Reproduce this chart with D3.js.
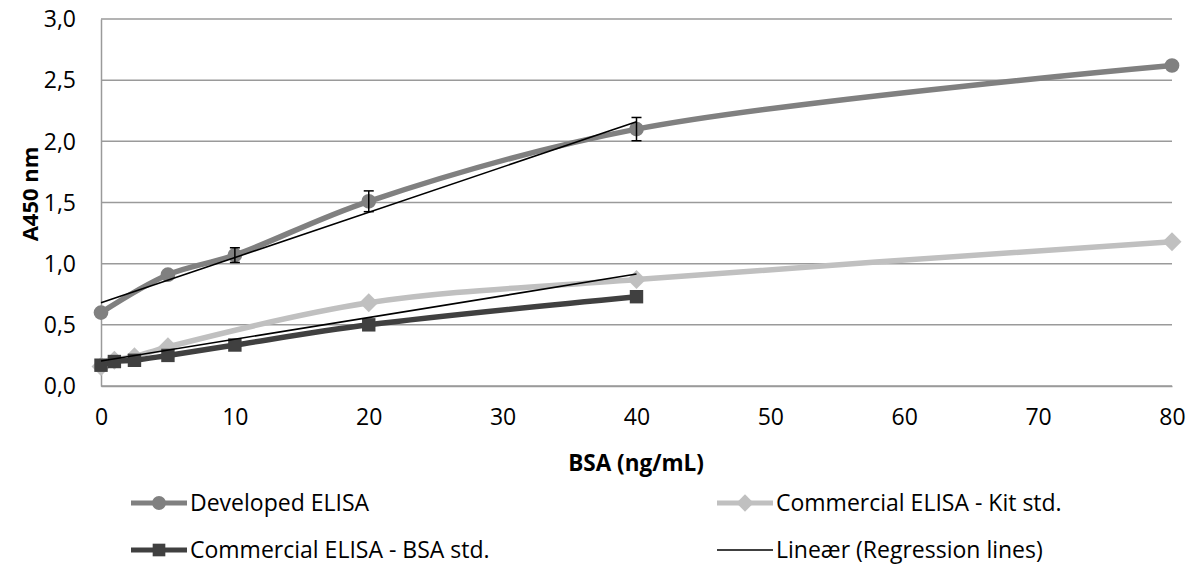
<!DOCTYPE html>
<html>
<head>
<meta charset="utf-8">
<script src="https://cdn.jsdelivr.net/npm/d3@7"></script>
<style>
  body { margin: 0; background: #fff; }
  svg text { font-family: "Open Sans", "Liberation Sans", sans-serif; fill: #000; }
</style>
</head>
<body>
<div id="chart"></div>
<script>
// concentrations and absorbances
const devX = [0, 5, 10, 20, 40, 80];
const devY = [0.60, 0.91, 1.07, 1.51, 2.10, 2.62];
const devErr = [0, 0, 0.06, 0.085, 0.095, 0];

const kitX = [0, 1, 2.5, 5, 20, 40, 80];
const kitY = [0.16, 0.21, 0.24, 0.32, 0.68, 0.87, 1.18];

const bsaX = [0, 1, 2.5, 5, 10, 20, 40];
const bsaY = [0.17, 0.20, 0.21, 0.25, 0.335, 0.50, 0.73];

// regression lines [x0, y0], [x1, y1]
const regDev = [[0, 0.68], [40, 2.16]];
const regLow = [[0, 0.205], [40, 0.915]];

const xTicks = [0, 10, 20, 30, 40, 50, 60, 70, 80];
const yTicks = [0, 0.5, 1.0, 1.5, 2.0, 2.5, 3.0];

const width = 1188, height = 564;
const margin = {left: 101, right: 16, top: 19, bottom: 178};
const fs = 23;

const svg = d3.select('#chart').append('svg')
    .attr('width', width)
    .attr('height', height);

const x = d3.scaleLinear().domain([0, 80]).range([margin.left, width - margin.right]);
const y = d3.scaleLinear().domain([0, 3]).range([height - margin.bottom, margin.top]);

const fmt = d => d3.format('.1f')(d).replace('.', ',');

// rotated square, like the Excel diamond marker
const diamond = {
    draw(ctx, size) {
        const r = Math.sqrt(size / 2);
        ctx.moveTo(0, -r); ctx.lineTo(r, 0); ctx.lineTo(0, r); ctx.lineTo(-r, 0); ctx.closePath();
    }
};

// gridlines
svg.append('g')
    .selectAll('line')
    .data(yTicks)
    .join('line')
    .attr('x1', x(0)).attr('x2', x(80))
    .attr('y1', d => y(d)).attr('y2', d => y(d))
    .attr('stroke', '#9a9a9a')
    .attr('stroke-width', 1.5);

// y axis
const yAxis = svg.append('g')
    .attr('transform', `translate(${x(0)},0)`)
    .call(d3.axisLeft(y).tickValues(yTicks).tickFormat(fmt).tickSize(0).tickPadding(25));
yAxis.select('.domain').attr('stroke', '#9a9a9a').attr('stroke-width', 1.5);
yAxis.selectAll('text').attr('font-size', fs).attr('dy', '0.34em');

// x axis
const xAxis = svg.append('g')
    .attr('transform', `translate(0,${y(0)})`)
    .call(d3.axisBottom(x).tickValues(xTicks).tickFormat(d3.format('d')).tickSize(0).tickPadding(23));
xAxis.select('.domain').attr('stroke', '#9a9a9a').attr('stroke-width', 1.5);
xAxis.selectAll('text').attr('font-size', fs);

// axis titles
svg.append('text')
    .attr('transform', `translate(38,194) rotate(-90)`)
    .attr('text-anchor', 'middle')
    .attr('font-size', fs - 1)
    .attr('font-weight', 'bold')
    .text('A450 nm');

svg.append('text')
    .attr('x', 636)
    .attr('y', 471)
    .attr('text-anchor', 'middle')
    .attr('font-size', fs - 0.5)
    .attr('font-weight', 'bold')
    .text('BSA (ng/mL)');

const line = d3.line().x(d => x(d[0])).y(d => y(d[1])).curve(d3.curveCatmullRom.alpha(0.5));

const series = [
    {xs: kitX, ys: kitY, color: '#c0c0c0', shape: diamond, size: 180},
    {xs: bsaX, ys: bsaY, color: '#404040', shape: d3.symbolSquare, size: 180},
    {xs: devX, ys: devY, color: '#808080', shape: d3.symbolCircle, size: 170}
];

// error bars for developed ELISA
const errData = devX.map((v, i) => [v, devY[i], devErr[i]]).filter(d => d[2] > 0);

series.forEach(s => {
    const pts = s.xs.map((v, i) => [v, s.ys[i]]);
    svg.append('path')
        .datum(pts)
        .attr('d', line)
        .attr('fill', 'none')
        .attr('stroke', s.color)
        .attr('stroke-width', 5.5)
        .attr('stroke-linejoin', 'round');
    svg.append('g')
        .selectAll('path')
        .data(pts)
        .join('path')
        .attr('transform', d => `translate(${x(d[0])},${y(d[1])})`)
        .attr('d', d3.symbol().type(s.shape).size(s.size))
        .attr('fill', s.color);
});

const eb = svg.append('g').attr('stroke', '#000').attr('stroke-width', 1.5);
errData.forEach(d => {
    const cx = x(d[0]);
    eb.append('line').attr('x1', cx).attr('x2', cx).attr('y1', y(d[1] - d[2])).attr('y2', y(d[1] + d[2]));
    eb.append('line').attr('x1', cx - 5).attr('x2', cx + 5).attr('y1', y(d[1] - d[2])).attr('y2', y(d[1] - d[2]));
    eb.append('line').attr('x1', cx - 5).attr('x2', cx + 5).attr('y1', y(d[1] + d[2])).attr('y2', y(d[1] + d[2]));
});

// regression lines
[regDev, regLow].forEach(r => {
    svg.append('line')
        .attr('x1', x(r[0][0])).attr('y1', y(r[0][1]))
        .attr('x2', x(r[1][0])).attr('y2', y(r[1][1]))
        .attr('stroke', '#000')
        .attr('stroke-width', 1.6);
});

// legend
const legend = [
    {label: 'Developed ELISA', color: '#808080', shape: d3.symbolCircle, size: 150, lx: 131, ly: 503, w: 5},
    {label: 'Commercial ELISA - Kit std.', color: '#c0c0c0', shape: diamond, size: 150, lx: 717, ly: 503, w: 5},
    {label: 'Commercial ELISA - BSA std.', color: '#404040', shape: d3.symbolSquare, size: 160, lx: 131, ly: 550, w: 5},
    {label: 'Lineær (Regression lines)', color: '#000', shape: null, size: 0, lx: 717, ly: 550, w: 1.6}
];
legend.forEach(l => {
    const g = svg.append('g');
    g.append('line')
        .attr('x1', l.lx).attr('x2', l.lx + 56)
        .attr('y1', l.ly).attr('y2', l.ly)
        .attr('stroke', l.color)
        .attr('stroke-width', l.w);
    if (l.shape) {
        g.append('path')
            .attr('transform', `translate(${l.lx + 28},${l.ly})`)
            .attr('d', d3.symbol().type(l.shape).size(l.size))
            .attr('fill', l.color);
    }
    g.append('text')
        .attr('x', l.lx + 59)
        .attr('y', l.ly + 8)
        .attr('font-size', fs)
        .text(l.label);
});
</script>
</body>
</html>
